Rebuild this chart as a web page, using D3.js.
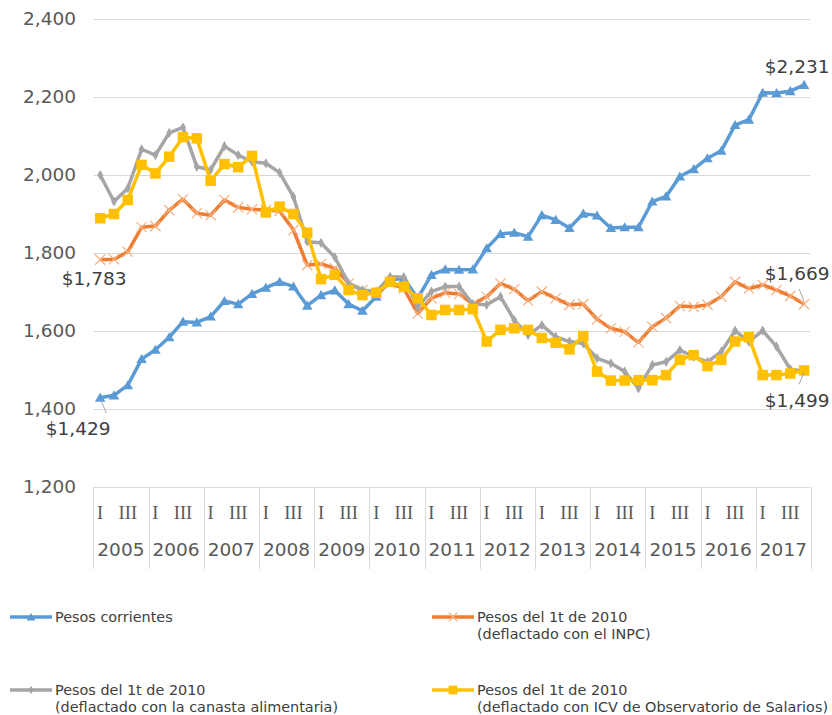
<!DOCTYPE html>
<html>
<head>
<meta charset="utf-8">
<script src="https://cdn.jsdelivr.net/npm/d3@7"></script>
<style>
  body { margin: 0; background: #fff; }
  text { font-family: "DejaVu Sans", Verdana, sans-serif; }
</style>
</head>
<body>
<svg id="chart" width="832" height="715"></svg>
<script>
// data, one value per quarter from 2005-I to 2017-IV
var years = [2005, 2006, 2007, 2008, 2009, 2010, 2011, 2012, 2013, 2014, 2015, 2016, 2017];
var quarterLabels = ["I", "", "III", ""];
var yTicks = [1200, 1400, 1600, 1800, 2000, 2200, 2400];

var corrientes = [1429, 1435, 1461, 1528, 1552, 1584, 1624, 1622, 1637, 1677, 1669, 1695,
  1711, 1726, 1714, 1665, 1692, 1704, 1669, 1652, 1688, 1731, 1735, 1684,
  1744, 1758, 1757, 1758, 1812, 1849, 1852, 1842, 1897, 1885, 1864, 1901,
  1896, 1864, 1866, 1866, 1932, 1945, 1996, 2015, 2043, 2062, 2128, 2142,
  2211, 2210, 2215, 2231];
var inpc = [1783, 1784, 1803, 1866, 1869, 1910, 1938, 1902, 1897, 1936, 1917, 1912,
  1910, 1908, 1859, 1769, 1772, 1761, 1722, 1705, 1697, 1722, 1709, 1645,
  1684, 1698, 1695, 1669, 1688, 1722, 1707, 1678, 1701, 1684, 1667, 1669,
  1630, 1607, 1598, 1571, 1611, 1633, 1664, 1662, 1667, 1688, 1726, 1709,
  1718, 1705, 1690, 1669];
var canasta = [2000, 1932, 1966, 2066, 2051, 2108, 2122, 2021, 2013, 2074, 2051, 2034,
  2030, 2006, 1944, 1829, 1826, 1789, 1722, 1705, 1701, 1739, 1738, 1662,
  1701, 1714, 1714, 1669, 1667, 1688, 1628, 1590, 1615, 1585, 1573, 1568,
  1530, 1517, 1496, 1453, 1513, 1521, 1551, 1534, 1521, 1547, 1601, 1573,
  1601, 1560, 1502, 1497];
var icv = [1889, 1900, 1936, 2026, 2004, 2047, 2097, 2094, 1985, 2028, 2020, 2049,
  1904, 1919, 1900, 1852, 1733, 1744, 1705, 1692, 1698, 1726, 1714, 1684,
  1641, 1654, 1654, 1656, 1573, 1603, 1607, 1603, 1582, 1570, 1553, 1587,
  1496, 1473, 1473, 1474, 1474, 1487, 1526, 1538, 1510, 1526, 1573, 1584,
  1487, 1487, 1491, 1499];

var seriesNames = [
  ["Pesos corrientes"],
  ["Pesos del 1t de 2010", "(deflactado con el INPC)"],
  ["Pesos del 1t de 2010", "(deflactado con la canasta alimentaria)"],
  ["Pesos del 1t de 2010", "(deflactado con ICV de Observatorio de Salarios)"]
];

var series = [
  { values: corrientes, color: "#5B9BD5", symbol: "triangle", name: seriesNames[0] },
  { values: inpc, color: "#ED7D31", symbol: "times", name: seriesNames[1] },
  { values: canasta, color: "#A5A5A5", symbol: "diamond", name: seriesNames[2] },
  { values: icv, color: "#FFC000", symbol: "square", name: seriesNames[3] }
];

var svg = d3.select("#chart");
var nQ = years.length * 4;

var plotL = 93.3, plotR = 811, plotT = 19, plotB = 487;
var x = d3.scaleBand().domain(d3.range(nQ)).range([plotL, plotR]).padding(0);
var cx = i => x(i) + x.bandwidth() / 2;
var y = d3.scaleLinear().domain([1200, 2400]).range([plotB, plotT]);

// gridlines
svg.append("g")
  .selectAll("line")
  .data(yTicks)
  .enter().append("line")
  .attr("x1", plotL).attr("x2", plotR - 1)
  .attr("y1", d => Math.round(y(d)) + 0.5).attr("y2", d => Math.round(y(d)) + 0.5)
  .attr("stroke", "#D9D9D9").attr("stroke-width", 1);

// y axis labels
var yAxis = d3.axisLeft(y).tickValues(yTicks).tickFormat(d3.format(",")).tickSize(0).tickPadding(0);
var gy = svg.append("g").attr("transform", "translate(76,0)").call(yAxis);
gy.select(".domain").remove();
gy.selectAll("text").attr("fill", "#595959").style("font-size", "18.5px")
  .style("font-family", "'DejaVu Sans', Verdana, sans-serif");

// category table under the plot
var yearStarts = years.map((yr, k) => x(k * 4));
yearStarts.push(plotR);
svg.append("g")
  .selectAll("line")
  .data(yearStarts)
  .enter().append("line")
  .attr("x1", d => Math.round(d) + 0.5).attr("x2", d => Math.round(d) + 0.5)
  .attr("y1", plotB).attr("y2", 569)
  .attr("stroke", "#D9D9D9");

var quarters = d3.range(nQ).filter(i => quarterLabels[i % 4] !== "");
svg.append("g")
  .selectAll("text")
  .data(quarters)
  .enter().append("text")
  .attr("x", d => cx(d))
  .attr("y", 519)
  .attr("text-anchor", "middle")
  .style("font-family", "'Liberation Serif', 'Times New Roman', serif")
  .style("font-size", "18.5px")
  .attr("fill", "#595959")
  .text(d => quarterLabels[d % 4]);

svg.append("g")
  .selectAll("text")
  .data(years)
  .enter().append("text")
  .attr("x", (d, k) => x(k * 4) + x.bandwidth() * 2)
  .attr("y", 556)
  .attr("text-anchor", "middle")
  .style("font-size", "18.5px")
  .attr("fill", "#595959")
  .text(d => d);

// lines + markers
var line = d3.line().x((d, i) => cx(i)).y(d => y(d));

function drawMarker(g, s, px, py, legend) {
  var k = legend ? 0.7 : 1;
  if (s.symbol === "triangle") {
    g.append("path").attr("d", d3.symbol(d3.symbolTriangle, 48 * k)())
      .attr("transform", "translate(" + px + "," + (py + 1) + ")")
      .attr("fill", s.color);
  } else if (s.symbol === "times") {
    g.append("path").attr("d", d3.symbol(d3.symbolTimes, 70 * k)())
      .attr("transform", "translate(" + px + "," + py + ")")
      .attr("fill", "none").attr("stroke", "#F4B183").attr("stroke-width", 1.2);
  } else if (s.symbol === "diamond") {
    g.append("path").attr("d", d3.symbol(d3.symbolDiamond, 30 * k)())
      .attr("transform", "translate(" + px + "," + py + ")")
      .attr("fill", s.color);
  } else {
    g.append("path").attr("d", d3.symbol(d3.symbolSquare, 110 * k)())
      .attr("transform", "translate(" + px + "," + py + ")")
      .attr("fill", s.color);
  }
}

series.forEach(function(s) {
  var g = svg.append("g");
  g.append("path")
    .attr("d", line(s.values))
    .attr("fill", "none")
    .attr("stroke", s.color)
    .attr("stroke-width", 3.5)
    .attr("stroke-linejoin", "round");
  s.values.forEach(function(v, i) { drawMarker(g, s, cx(i), y(v), false); });
});

// data labels
var money = d3.format("$,");
var labels = [
  { v: inpc[0], i: 0, dx: -6, dy: 25, lead: null },
  { v: corrientes[0], i: 0, dx: -22, dy: 37, lead: [[1, 3], [6, 15]] },
  { v: corrientes[nQ - 1], i: nQ - 1, dx: -7, dy: -12, lead: null },
  { v: inpc[nQ - 1], i: nQ - 1, dx: -7, dy: -24, lead: [[0, -3], [-5, -15]] },
  { v: icv[nQ - 1], i: nQ - 1, dx: -7, dy: 37, lead: [[0, 2], [-5, 14]] }
];
labels.forEach(function(l) {
  var px = cx(l.i), py = y(l.v);
  if (l.lead) {
    svg.append("line")
      .attr("x1", px + l.lead[0][0]).attr("y1", py + l.lead[0][1])
      .attr("x2", px + l.lead[1][0]).attr("y2", py + l.lead[1][1])
      .attr("stroke", "#A5A5A5").attr("stroke-width", 1);
  }
  svg.append("text")
    .attr("x", px + l.dx).attr("y", py + l.dy)
    .attr("text-anchor", "middle")
    .style("font-size", "18.5px")
    .attr("fill", "#404040")
    .text(money(l.v));
});

// legend
var legendPos = [[10, 617], [432, 617], [10, 690], [432, 690]];
series.forEach(function(s, k) {
  var g = svg.append("g").attr("transform", "translate(" + legendPos[k][0] + "," + legendPos[k][1] + ")");
  g.append("line").attr("x1", 0).attr("x2", 42).attr("y1", 0).attr("y2", 0)
    .attr("stroke", s.color).attr("stroke-width", 3.5);
  drawMarker(g, s, 21, 0, true);
  s.name.forEach(function(t, j) {
    g.append("text")
      .attr("x", 45).attr("y", 5 + j * 17)
      .style("font-size", "14.4px")
      .attr("fill", "#404040")
      .text(t);
  });
});
</script>
</body>
</html>
